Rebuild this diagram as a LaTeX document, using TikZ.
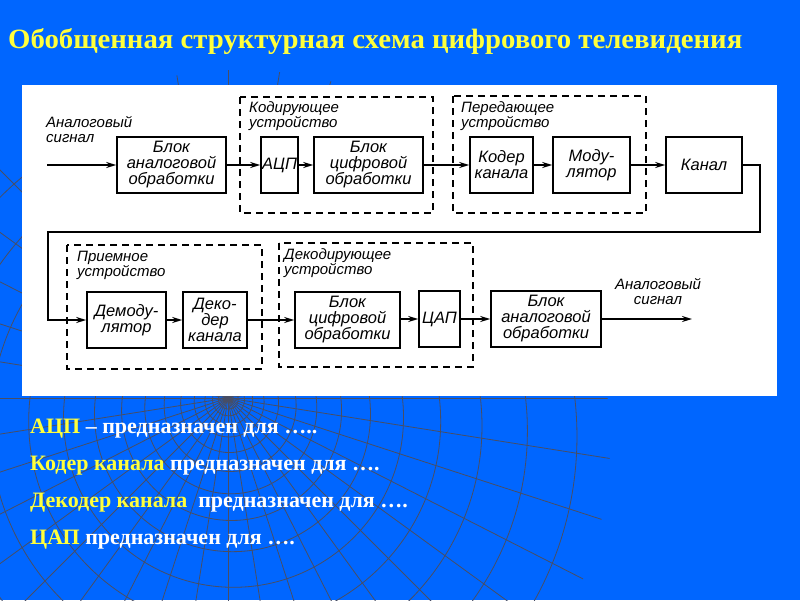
\documentclass[tikz,border=0pt]{standalone}
\usepackage{graphicx}
\usepackage{fontspec}
\setmainfont{Liberation Serif}
\newfontfamily\schemafont{Liberation Sans}
\usepackage{tikz}
\usetikzlibrary{positioning, arrows, arrows.meta}
\definecolor{fon}{RGB}{0,102,255}
\definecolor{zhelt}{RGB}{255,255,60}
\definecolor{setka}{RGB}{72,78,100}
\newcommand{\sch}{\schemafont\itshape\fontsize{15}{15}\selectfont}
\newcommand{\schb}{\schemafont\itshape\fontsize{16.5}{16}\selectfont}
\newcommand{\niz}{\bfseries\fontsize{22}{22}\selectfont}
\tikzset{
  blok/.style={draw, line width=1.6pt, align=center, inner sep=0pt, font=\schb, minimum height=56pt},
  gruppa/.style={draw, line width=1.2pt, dash pattern=on 7pt off 5pt},
  podpis/.style={align=left, anchor=north west, inner sep=0pt, font=\sch},
  potok/.style={line width=1.6pt, -{Stealth[length=10pt,width=6pt]}},
  stroka/.style={anchor=base west, inner sep=0pt, font=\niz}
}

\begin{document}
\begin{tikzpicture}[x=1pt,y=-1pt]
\useasboundingbox (0,0) rectangle (800,600);
\fill[fon] (0,0) rectangle (800,600);
\begin{scope}
\clip (0,0) rectangle (800,600);
\clip (240,440) circle [radius=370pt];
\foreach \r in {10,16,24,35,49,66,86,110,138,170,206,246,290,338,380}{
\draw[setka,line width=0.8pt] ({228+12*\r/370},{398+42*\r/370}) circle [radius=\r pt];
}
\foreach \a in {0,9,...,351}{
\draw[setka,line width=0.8pt] (228,398) -- ++(\a:420pt);
}
\end{scope}
\fill[white] (22,85) rectangle (777,396);

\node[anchor=base west, inner sep=0pt, text=zhelt] (zagolovok) at (8,48)
  {\resizebox{734pt}{20pt}{\bfseries Обобщенная структурная схема цифрового телевидения}};

\draw[gruppa] (240,97) rectangle (433,213);
\draw[gruppa] (453,96) rectangle (646,213);
\draw[gruppa] (67,245) rectangle (262,369);
\draw[gruppa] (279,243) rectangle (473,367);
\node[podpis] (kodpodp) at (249,101) {Кодирующее\\устройство};
\node[podpis] (perpodp) at (461,101) {Передающее\\устройство};
\node[podpis] (prmpodp) at (77,251) {Приемное\\устройство};
\node[podpis] (dekpodp) at (284,248) {Декодирующее\\устройство};

\node[podpis] (vhodpodp) at (46,116) {Аналоговый\\сигнал};
\node[font=\sch, align=center, inner sep=0pt] (vyhpodp) at (658,292) {Аналоговый\\сигнал};

\node[blok, minimum width=109pt] (anblok1) at (171.5,165) {Блок\\аналоговой\\обработки};
\node[blok, minimum width=37pt] (acp) at (279.5,165) {АЦП};
\node[blok, minimum width=109pt] (cifblok1) at (368.5,165) {Блок\\цифровой\\обработки};
\node[blok, minimum width=63pt] (koder) at (501.5,165) {Кодер\\канала};
\node[blok, minimum width=77pt] (modul) at (591.5,165) {Моду-\\лятор};
\node[blok, minimum width=76pt] (kanal) at (704,165) {Канал};

\node[blok, minimum width=79pt] (demod) at (126.5,320) {Демоду-\\лятор};
\node[blok, minimum width=64pt] (dekoder) at (215,320) {Деко-\\дер\\канала};
\node[blok, minimum width=105pt] (cifblok2) at (347.5,320) {Блок\\цифровой\\обработки};
\node[blok, minimum width=41pt] (cap) at (439.5,319) {ЦАП};
\node[blok, minimum width=110pt] (anblok2) at (546,319) {Блок\\аналоговой\\обработки};

\coordinate (vhod) at (47,165);
\coordinate (vyhod) at (692,319);
\coordinate (povorot1) at (760,232);
\coordinate (povorot2) at (48,232);

\draw[potok] (vhod) -- (anblok1);
\draw[potok] (anblok1) -- (acp);
\draw[potok] (acp) -- (cifblok1);
\draw[potok] (cifblok1) -- (koder);
\draw[potok] (koder) -- (modul);
\draw[potok] (modul) -- (kanal);
\draw[potok] (kanal.east) -| (povorot1) -- (povorot2) |- (demod.west);
\draw[potok] (demod) -- (dekoder);
\draw[potok] (dekoder) -- (cifblok2);
\draw[potok] (cifblok2.east |- cap) -- (cap);
\draw[potok] (cap) -- (anblok2);
\draw[potok] (anblok2) -- (vyhod);

\node[stroka] (s1) at (30,433) {\textcolor{zhelt}{АЦП} \textcolor{white}{– предназначен для …..}};
\node[stroka] (s2) at (30,470) {\textcolor{zhelt}{Кодер канала} \textcolor{white}{предназначен для ….}};
\node[stroka] (s3) at (30,507) {\textcolor{zhelt}{Декодер канала}\ \ \textcolor{white}{предназначен для ….}};
\node[stroka] (s4) at (30,544) {\textcolor{zhelt}{ЦАП} \textcolor{white}{предназначен для ….}};
\end{tikzpicture}
\end{document}
